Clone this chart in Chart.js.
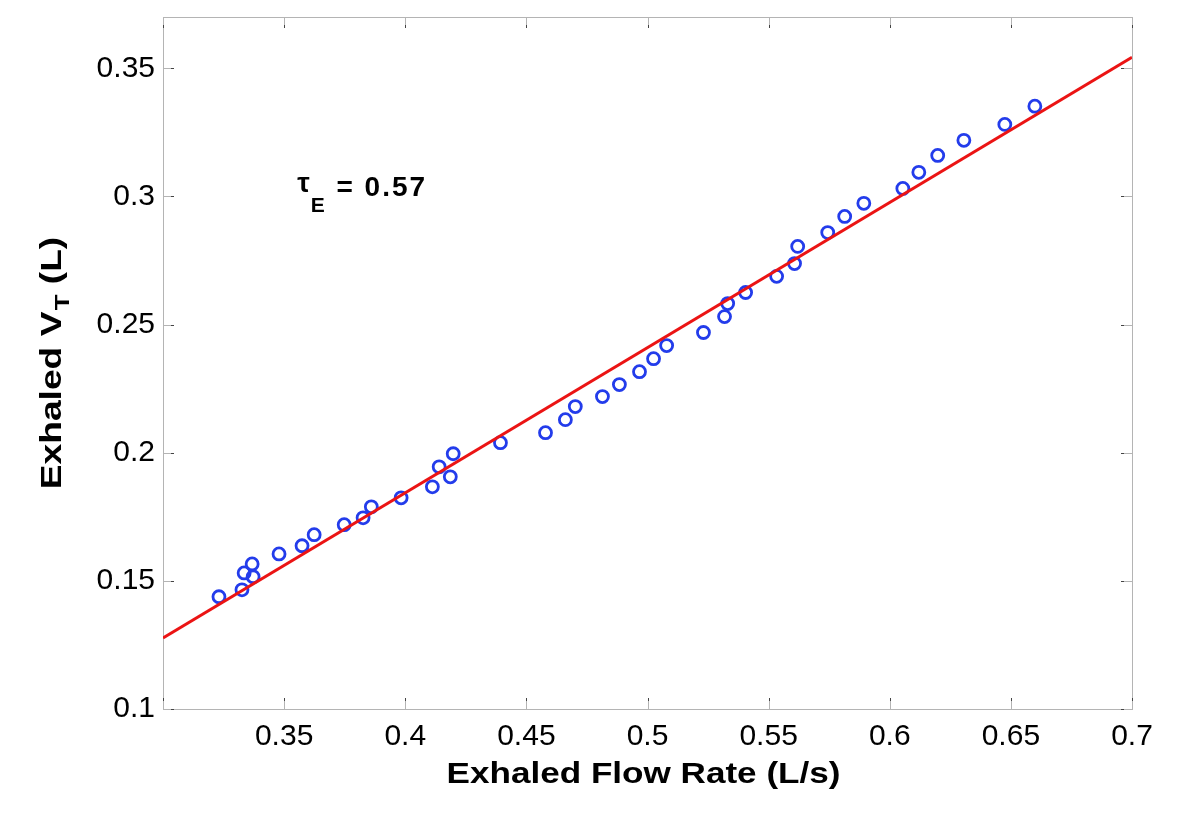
<!DOCTYPE html>
<html>
<head>
<meta charset="utf-8">
<script src="https://cdn.jsdelivr.net/npm/chart.js@4.4.1/dist/chart.umd.min.js"></script>
<style>
  html, body { margin: 0; padding: 0; background: #ffffff; }
  #wrap { width: 1200px; height: 839px; }
</style>
</head>
<body>
<div id="wrap"><canvas id="c" width="1200" height="839"></canvas></div>
<script>
// ---- data ----
const flowRate = [0.3231, 0.3326, 0.3335, 0.3368, 0.3372, 0.3479, 0.3574, 0.3624, 0.3748, 0.3826,
  0.3860, 0.3983, 0.4112, 0.4140, 0.4186, 0.4198, 0.4393, 0.4579, 0.4661, 0.4702,
  0.4814, 0.4884, 0.4967, 0.5025, 0.5079, 0.5231, 0.5318, 0.5331, 0.5405, 0.5533,
  0.5607, 0.5620, 0.5744, 0.5814, 0.5893, 0.6054, 0.6120, 0.6198, 0.6306, 0.6475, 0.6599];
const exhaledVT = [0.1438, 0.1465, 0.1531, 0.1566, 0.1516, 0.1605, 0.1637, 0.1680, 0.1719, 0.1746,
  0.1789, 0.1824, 0.1867, 0.1945, 0.1906, 0.1996, 0.2039, 0.2078, 0.2129, 0.2180,
  0.2219, 0.2266, 0.2316, 0.2367, 0.2418, 0.2469, 0.2531, 0.2582, 0.2625, 0.2688,
  0.2738, 0.2805, 0.2859, 0.2922, 0.2973, 0.3031, 0.3094, 0.3160, 0.3219, 0.3281, 0.3352];
const fitX = [0.3, 0.7];
const fitY = [0.1277, 0.3543];
const xTickValues = [0.3, 0.35, 0.4, 0.45, 0.5, 0.55, 0.6, 0.65, 0.7];
const xTickLabels = ['', '0.35', '0.4', '0.45', '0.5', '0.55', '0.6', '0.65', '0.7'];
const yTickValues = [0.1, 0.15, 0.2, 0.25, 0.3, 0.35];
const yTickLabels = ['0.1', '0.15', '0.2', '0.25', '0.3', '0.35'];
const xRange = [0.3, 0.7];
const yRange = [0.1, 0.37];
const xTitle = 'Exhaled Flow Rate (L/s)';
const yTitleMain = 'Exhaled V';
const yTitleSub = 'T';
const yTitleTail = ' (L)';
const tauSymbol = '\u03C4';
const tauSub = 'E';
const tauText = ' = 0.57';
const tauAnchor = [0.3554, 0.3];

const FONT = '"Liberation Sans", Arial, Helvetica, sans-serif';

function drawSpaced(ctx, text, x, y, ls) {
  ctx.letterSpacing = ls + 'px';
  ctx.fillText(text, x, y);
  ctx.letterSpacing = '0px';
}

const framePlugin = {
  id: 'frame',
  beforeDatasetsDraw(chart) {
    const { ctx, chartArea: a, scales: { x, y } } = chart;
    ctx.save();
    ctx.strokeStyle = '#b4b4b4';
    ctx.lineWidth = 1;
    ctx.strokeRect(Math.round(a.left) + 0.5, Math.round(a.top) + 0.5,
      Math.round(a.right - a.left), Math.round(a.bottom - a.top));
    const tl = 11, dk = 3;
    const seg = (x1, y1, x2, y2, col) => {
      ctx.strokeStyle = col; ctx.beginPath(); ctx.moveTo(x1, y1); ctx.lineTo(x2, y2); ctx.stroke();
    };
    for (const v of xTickValues) {
      const px = Math.round(x.getPixelForValue(v)) + 0.5;
      seg(px, a.bottom, px, a.bottom - tl + dk, '#b4b4b4');
      seg(px, a.bottom - tl + dk, px, a.bottom - tl, '#444');
      seg(px, a.top, px, a.top + tl - dk, '#b4b4b4');
      seg(px, a.top + tl - dk, px, a.top + tl, '#444');
    }
    for (const v of yTickValues) {
      const py = Math.round(y.getPixelForValue(v)) + 0.5;
      seg(a.left, py, a.left + tl - dk, py, '#b4b4b4');
      seg(a.left + tl - dk, py, a.left + tl, py, '#444');
      seg(a.right, py, a.right - tl + dk, py, '#b4b4b4');
      seg(a.right - tl + dk, py, a.right - tl, py, '#444');
    }
    ctx.restore();
  },
  afterDraw(chart) {
    const { ctx, chartArea: a, scales: { x, y } } = chart;
    ctx.save();
    ctx.fillStyle = '#000';
    ctx.textBaseline = 'alphabetic';
    ctx.textAlign = 'left';

    // x axis title (wide bold face, as in the reference)
    ctx.save();
    ctx.font = 'bold 30px ' + FONT;
    const sx = 1.17;
    const wx = ctx.measureText(xTitle).width * sx;
    ctx.translate((a.left + a.right) / 2 - 4 - wx / 2, 783);
    ctx.scale(sx, 1);
    ctx.fillText(xTitle, 0, 0);
    ctx.restore();

    // y axis title with subscript, centred on the plot height
    ctx.save();
    const sy = 1.26;
    ctx.font = 'bold 29.5px ' + FONT;
    const w1 = ctx.measureText(yTitleMain).width;
    const w3 = ctx.measureText(yTitleTail).width;
    ctx.font = 'bold 20.5px ' + FONT;
    const w2 = ctx.measureText(yTitleSub).width + 1;
    const total = (w1 + w2 + w3) * sy;
    const cy = (a.top + a.bottom) / 2;
    ctx.translate(61, cy + total / 2);
    ctx.rotate(-Math.PI / 2);
    ctx.scale(sy, 1);
    ctx.font = 'bold 29.5px ' + FONT;
    ctx.fillText(yTitleMain, 0, 0);
    ctx.font = 'bold 20.5px ' + FONT;
    ctx.fillText(yTitleSub, w1 + 1, 8);
    ctx.font = 'bold 29.5px ' + FONT;
    ctx.fillText(yTitleTail, w1 + w2, 0);
    ctx.restore();

    // tau annotation
    const ax = x.getPixelForValue(tauAnchor[0]);
    const ay = y.getPixelForValue(tauAnchor[1]);
    ctx.font = 'bold 28px ' + FONT;
    const wt = ctx.measureText(tauSymbol).width;
    ctx.fillText(tauSymbol, ax, ay - 4);
    ctx.font = 'bold 21px ' + FONT;
    const we = ctx.measureText(tauSub).width;
    ctx.fillText(tauSub, ax + wt + 1, ay + 16);
    ctx.font = 'bold 28px ' + FONT;
    drawSpaced(ctx, tauText, ax + wt + we + 3, ay, 2);
    ctx.restore();
  }
};

new Chart(document.getElementById('c'), {
  type: 'scatter',
  data: {
    datasets: [
      {
        type: 'line',
        label: 'fit',
        data: fitX.map((v, i) => ({ x: v, y: fitY[i] })),
        borderColor: 'rgb(235, 20, 20)',
        borderWidth: 3,
        pointRadius: 0,
        fill: false,
        tension: 0
      },
      {
        label: 'data',
        data: flowRate.map((v, i) => ({ x: v, y: exhaledVT[i] })),
        pointStyle: 'circle',
        pointRadius: 6,
        pointBorderWidth: 2.8,
        borderColor: 'rgb(35, 60, 235)',
        backgroundColor: 'rgba(0,0,0,0)',
        pointBackgroundColor: 'rgba(0,0,0,0)'
      }
    ]
  },
  options: {
    responsive: false,
    animation: false,
    devicePixelRatio: 1,
    layout: { padding: { top: 17, right: 68, bottom: 0, left: 0 } },
    plugins: { legend: { display: false }, tooltip: { enabled: false } },
    scales: {
      x: {
        type: 'linear',
        min: xRange[0], max: xRange[1],
        afterBuildTicks: (s) => { s.ticks = xTickValues.map(v => ({ value: v })); },
        afterFit: (s) => { s.height = 130; s.paddingLeft = 0; s.paddingRight = 0; },
        grid: { display: false, drawTicks: false },
        border: { display: false },
        ticks: {
          autoSkip: false, maxRotation: 0, padding: 10, color: '#000',
          font: { family: FONT, size: 30 },
          callback: (v, i) => xTickLabels[i]
        }
      },
      y: {
        type: 'linear',
        min: yRange[0], max: yRange[1],
        afterBuildTicks: (s) => { s.ticks = yTickValues.map(v => ({ value: v })); },
        afterFit: (s) => { s.width = 163; s.paddingTop = 0; s.paddingBottom = 0; },
        grid: { display: false, drawTicks: false },
        border: { display: false },
        ticks: {
          autoSkip: false, padding: 8, color: '#000',
          font: { family: FONT, size: 30 },
          callback: (v, i) => yTickLabels[i]
        }
      }
    }
  },
  plugins: [framePlugin]
});
</script>
</body>
</html>
